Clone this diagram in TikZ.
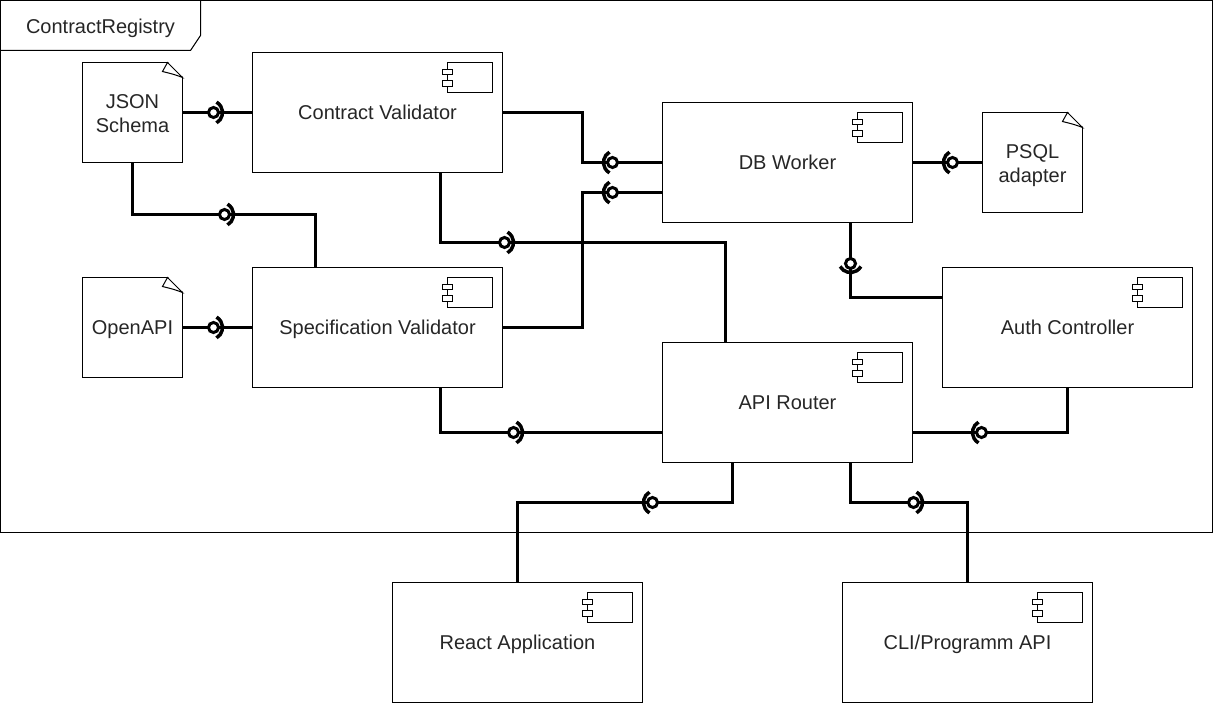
\documentclass[tikz,border=0pt]{standalone}
\usepackage{fontspec}
\setmainfont{Liberation Sans}
\usepackage{tikz}
\usetikzlibrary{calc}

\begin{document}
\begin{tikzpicture}[
        x=1pt, y=-1pt,
        every node/.style={font=\fontsize{20}{24}\selectfont, text=black!85, align=center, inner sep=0pt, outer sep=0pt},
        oneline/.style={text height=14pt, text depth=0pt},
        twolines/.style={text height=40pt, text depth=0pt},
        comp/.style={rectangle, draw, line width=1pt, minimum width=250pt, minimum height=120pt, oneline},
        doc/.style={rectangle, draw, line width=1pt, minimum width=100pt, minimum height=100pt},
        ball/.style={circle, draw, line width=3pt, fill=white, minimum size=10pt},
        conn/.style={line width=3pt, line join=miter},
        socket/.style={line width=3.5pt},
        thinline/.style={line width=1pt}
    ]
        \useasboundingbox (-0.5, -0.5) rectangle (1212.5, 702.5);

        % Frame with its tab
        \draw[thinline] (0, 0) rectangle (1212, 532);
        \draw[thinline] (0, 50) -- (190, 50) -- (200, 35) -- (200, 0);
        \node[oneline] (title) at (100, 26) {ContractRegistry};

        % Documents
        \node[doc, twolines] (json) at (132, 112) {JSON\\Schema};
        \node[doc, oneline] (openapi) at (132, 327) {OpenAPI};
        \node[doc, twolines] (psql) at (1032, 162) {PSQL\\adapter};

        % Components
        \node[comp] (contract) at (377, 112) {Contract Validator};
        \node[comp] (spec) at (377, 327) {Specification Validator};
        \node[comp] (db) at (787, 162) {DB Worker};
        \node[comp] (auth) at (1067, 327) {Auth Controller};
        \node[comp] (router) at (787, 402) {API Router};
        \node[comp] (react) at (517, 642) {React Application};
        \node[comp] (cli) at (967, 642) {CLI/Programm API};

        % Folded corners
        \foreach \d in {json, openapi, psql} {
            \fill[white] ($(\d.north east)+(-15, -1)$) -- ($(\d.north east)+(1, -1)$) -- ($(\d.north east)+(1, 15)$) -- cycle;
            \draw[thinline, fill=white] ($(\d.north east)+(-15, 0)$) -- ($(\d.north east)+(0, 15)$)
                .. controls ($(\d.north east)+(-8, 12)$) .. ($(\d.north east)+(-20, 9)$) -- cycle;
        }

        % Component icons
        \foreach \c in {contract, spec, db, auth, router, react, cli} {
            \draw[thinline] ($(\c.north east)+(-55, 10)$) rectangle ($(\c.north east)+(-10, 40)$);
            \draw[thinline, fill=white] ($(\c.north east)+(-60, 17)$) rectangle ($(\c.north east)+(-50, 22)$);
            \draw[thinline, fill=white] ($(\c.north east)+(-60, 28)$) rectangle ($(\c.north east)+(-50, 34)$);
        }

        % Interface balls
        \node[ball] (ijson) at (213, 112) {};
        \node[ball] (ijsonspec) at (224, 214) {};
        \node[ball] (iopenapi) at (213, 327) {};
        \node[ball] (icontract) at (612, 162) {};
        \node[ball] (ispec) at (612, 192) {};
        \node[ball] (ipsql) at (952, 162) {};
        \node[ball] (iauth) at (850, 263) {};
        \node[ball] (irouter) at (504, 242) {};
        \node[ball] (ispecrouter) at (513, 432) {};
        \node[ball] (iauthrouter) at (981, 432) {};
        \node[ball] (ireact) at (652, 502) {};
        \node[ball] (icli) at (913, 502) {};

        % Connectors
        \draw[conn] (json.east |- ijson) -- (ijson);
        \draw[conn] (ijson) -- (contract.west |- ijson);
        \draw[conn] (json.south) |- (ijsonspec);
        \draw[conn] (ijsonspec) -| (spec.north -| 315, 0);
        \draw[conn] (openapi.east) -- (iopenapi);
        \draw[conn] (iopenapi) -- (spec.west);
        \draw[conn] (contract.east) -| (582, 162) -- (icontract);
        \draw[conn] (icontract) -- (db.west |- icontract);
        \draw[conn] (spec.east) -| (582, 192) -- (ispec);
        \draw[conn] (ispec) -- (db.west |- ispec);
        \draw[conn] (db.east) -- (ipsql);
        \draw[conn] (ipsql) -- (psql.west);
        \draw[conn] (db.south -| iauth) -- (iauth);
        \draw[conn] (iauth) |- (auth.west |- 0, 297);
        \draw[conn] (contract.south -| 440, 0) |- (irouter);
        \draw[conn] (irouter) -| (router.north -| 725, 0);
        \draw[conn] (spec.south -| 440, 0) |- (ispecrouter);
        \draw[conn] (ispecrouter) -- (router.west |- ispecrouter);
        \draw[conn] (router.east |- iauthrouter) -- (iauthrouter);
        \draw[conn] (iauthrouter) -| (auth.south);
        \draw[conn] (router.south -| 732, 0) |- (ireact);
        \draw[conn] (ireact) -| (react.north);
        \draw[conn] (router.south -| 850, 0) |- (icli);
        \draw[conn] (icli) -| (cli.north);

        % Sockets
        \foreach \i/\a in {ijson/0, ijsonspec/0, iopenapi/0, icontract/180, ispec/180, ipsql/180,
            iauth/270, irouter/0, ispecrouter/0, iauthrouter/180, ireact/180, icli/0} {
            \draw[socket] (\i) ++(\a:-3pt) ++(\a-60:12pt) arc (\a-60:\a+60:12pt);
        }
    \end{tikzpicture}
\end{document}
